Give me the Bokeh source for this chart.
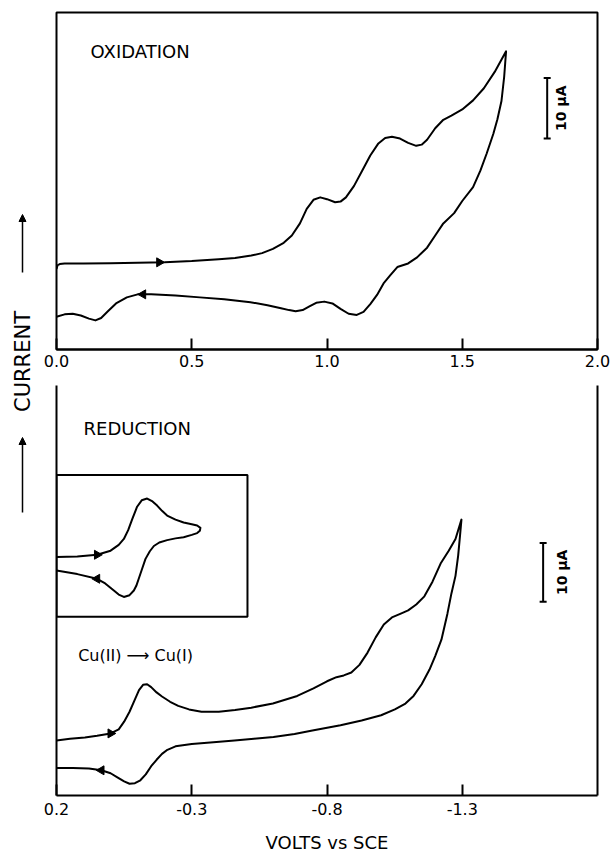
import numpy as np
from math import pi
from bokeh.plotting import figure
from bokeh.models import (Range1d, FixedTicker, PrintfTickFormatter, LinearAxis,
                          Label, Arrow, NormalHead)
from bokeh.layouts import row, column
from bokeh.embed import file_html
from bokeh.resources import INLINE

FONT = "DejaVu Sans"

# ---------------- data (V vs SCE, current in uA) ----------------
# Oxidation, anodic (forward) scan
ox_fwd_v = [0.000, 0.004, 0.012, 0.03, 0.10, 0.20, 0.30, 0.40, 0.50, 0.60, 0.66, 0.72,
            0.76, 0.80, 0.84, 0.87, 0.90, 0.925, 0.95, 0.975, 1.00, 1.03, 1.05, 1.07,
            1.10, 1.13, 1.16, 1.19, 1.215, 1.24, 1.27, 1.30, 1.33, 1.35, 1.37, 1.40,
            1.43, 1.46, 1.50, 1.54, 1.58, 1.62, 1.662]
ox_fwd_i = [13.3, 13.9, 14.1, 14.2, 14.2, 14.25, 14.3, 14.4, 14.6, 14.9, 15.1, 15.5,
            15.9, 16.6, 17.6, 18.8, 20.8, 23.2, 24.7, 25.1, 24.8, 24.3, 24.4, 25.1,
            27.0, 29.5, 32.0, 34.0, 34.9, 35.1, 34.8, 34.1, 33.6, 33.8, 34.6, 36.5,
            37.9, 38.6, 39.6, 41.1, 43.1, 45.8, 49.2]
# Oxidation, return scan
ox_rev_v = [1.662, 1.655, 1.645, 1.63, 1.615, 1.59, 1.567, 1.54, 1.50, 1.47, 1.43,
            1.40, 1.37, 1.333, 1.30, 1.26, 1.235, 1.209, 1.185, 1.16, 1.135, 1.11,
            1.08, 1.05, 1.02, 0.99, 0.96, 0.935, 0.91, 0.884, 0.86, 0.83, 0.78, 0.717,
            0.62, 0.53, 0.44, 0.35, 0.30, 0.26, 0.22, 0.19, 0.165, 0.144, 0.12, 0.09,
            0.06, 0.03, 0.0]
ox_rev_i = [49.2, 45.0, 41.0, 38.0, 35.6, 32.3, 29.5, 26.8, 24.5, 22.5, 20.8,
            18.8, 16.8, 15.2, 14.2, 13.6, 12.3, 10.9, 9.0, 7.5, 6.2, 5.7,
            5.9, 6.7, 7.6, 7.9, 7.7, 7.1, 6.5, 6.3, 6.5, 6.8, 7.3, 7.8,
            8.3, 8.6, 8.9, 9.1, 9.1, 8.6, 7.6, 6.3, 5.2, 4.8, 5.1, 5.6,
            5.9, 5.8, 5.4]

# Reduction, cathodic (forward) scan
red_fwd_v = [0.20, 0.15, 0.095, 0.05, 0.0, -0.03, -0.05, -0.07, -0.09, -0.105, -0.12,
             -0.135, -0.15, -0.17, -0.19, -0.22, -0.25, -0.29, -0.336, -0.40, -0.46,
             -0.52, -0.60, -0.69, -0.75, -0.80, -0.835, -0.862, -0.89, -0.92, -0.95,
             -0.98, -1.01, -1.04, -1.075, -1.10, -1.13, -1.16, -1.19, -1.22, -1.25,
             -1.275, -1.297]
red_fwd_i = [9.4, 9.7, 9.9, 10.2, 10.6, 11.3, 12.6, 14.3, 16.4, 18.0, 18.9,
             19.0, 18.5, 17.6, 16.9, 16.0, 15.3, 14.7, 14.3, 14.3, 14.6,
             15.0, 15.7, 17.0, 18.3, 19.5, 20.2, 20.5, 21.0, 22.3, 24.4,
             27.0, 29.2, 30.4, 31.1, 31.6, 32.6, 34.0, 36.5, 39.6, 41.8,
             43.8, 47.1]
# Reduction, return scan
red_rev_v = [-1.297, -1.292, -1.285, -1.275, -1.26, -1.245, -1.223, -1.20, -1.179,
             -1.15, -1.12, -1.09, -1.051, -1.00, -0.928, -0.85, -0.746, -0.68, -0.602,
             -0.53, -0.458, -0.38, -0.30, -0.24, -0.21, -0.19, -0.17, -0.15, -0.13,
             -0.11, -0.09, -0.07, -0.05, -0.025, 0.0, 0.034, 0.08, 0.14, 0.20]
red_rev_i = [47.1, 44.5, 41.0, 37.5, 34.5, 31.0, 26.6, 23.8, 21.5,
             19.0, 17.0, 15.7, 14.7, 13.7, 12.8, 12.0, 11.1, 10.5, 10.0,
             9.7, 9.4, 9.1, 8.8, 8.4, 7.8, 7.1, 6.1, 5.0, 3.6,
             2.6, 2.1, 2.0, 2.4, 3.1, 3.8, 4.3, 4.6, 4.7, 4.7]

# Inset: Cu(II) -> Cu(I) couple alone (current offset to the inset box)
ins_fwd_v = [0.20, 0.123, 0.05, 0.0, -0.03, -0.049, -0.065, -0.08, -0.098, -0.115,
             -0.135, -0.155, -0.172, -0.19, -0.209, -0.24, -0.27, -0.30, -0.32, -0.332]
ins_fwd_i = [10.2, 10.3, 10.6, 11.3, 12.3, 13.3, 14.8, 16.7, 18.8, 19.9,
             20.2, 19.7, 19.0, 18.1, 17.3, 16.6, 16.1, 15.8, 15.6, 15.2]
ins_rev_v = [-0.332, -0.33, -0.32, -0.30, -0.27, -0.24, -0.209, -0.18, -0.16, -0.145,
             -0.129, -0.115, -0.104, -0.095, -0.086, -0.07, -0.049, -0.03, -0.012,
             0.02, 0.05, 0.123, 0.20]
ins_rev_i = [15.2, 14.7, 14.3, 14.0, 13.6, 13.4, 13.1, 12.7, 12.1, 11.2,
             9.9, 8.0, 6.5, 5.3, 4.5, 3.7, 3.4, 3.8, 4.5,
             5.7, 6.5, 7.3, 7.9]

ox_ticks = [0.0, 0.5, 1.0, 1.5, 2.0]
red_ticks = [0.2, -0.3, -0.8, -1.3]
scale_ua = 10.0

# direction arrows: potential where each arrowhead sits
ox_arrow_fwd, ox_arrow_rev = 0.38, 0.32
red_arrow_fwd, red_arrow_rev = 0.0, 0.034
ins_arrow_fwd, ins_arrow_rev = 0.05, 0.05


def at(vs, is_, v0):
    vs = np.asarray(vs); is_ = np.asarray(is_)
    o = np.argsort(vs)
    return float(np.interp(v0, vs[o], is_[o]))


def style_xaxis(ax, ticks):
    ax.ticker = FixedTicker(ticks=ticks)
    ax.formatter = PrintfTickFormatter(format="%.1f")
    ax.major_tick_in = 11
    ax.major_tick_out = 0
    ax.minor_tick_in = 0
    ax.minor_tick_out = 0
    ax.axis_line_width = 2
    ax.major_tick_line_width = 2
    ax.major_label_text_font = FONT
    ax.major_label_text_font_size = "16px"
    ax.major_label_text_color = "black"


def label(p, x, y, text, size, angle=0.0, align="left", **kw):
    p.add_layout(Label(x=x, y=y, text=text, angle=angle, text_align=align,
                       text_baseline="middle", text_font=FONT,
                       text_font_size=size, text_color="black", **kw))


# ---------------- left strip: CURRENT label ----------------
left = figure(width=38, height=856, x_range=Range1d(0, 38), y_range=Range1d(856, 0),
              output_backend="svg", toolbar_location=None,
              x_axis_location=None, y_axis_location=None, min_border=0)
left.outline_line_color = None
left.grid.visible = False
label(left, 22, 361, "CURRENT", "21px", angle=pi / 2, align="center")
for ys, ye in [(512, 437), (272, 214)]:
    left.add_layout(Arrow(x_start=22, y_start=ys, x_end=22, y_end=ye, line_width=1.5,
                          end=NormalHead(size=7, fill_color="black", line_color="black")))

# ---------------- top: oxidation ----------------
top = figure(width=573, height=380, x_range=Range1d(0, 2.0), y_range=Range1d(0, 55.6),
             output_backend="svg", toolbar_location=None, y_axis_location=None,
             min_border_left=18, min_border_right=14, min_border_top=12,
             min_border_bottom=31)
top.outline_line_color = "black"
top.outline_line_width = 2
top.outline_line_alpha = 1
top.grid.visible = False
style_xaxis(top.xaxis[0], ox_ticks)
top.xaxis[0].major_label_standoff = 5

top.line(ox_fwd_v + ox_rev_v[1:], ox_fwd_i + ox_rev_i[1:], line_color="black",
         line_width=2, line_join="round")
top.scatter([ox_arrow_fwd], [at(ox_fwd_v, ox_fwd_i, ox_arrow_fwd)], marker="triangle",
            angle=-pi / 2, size=9, color="black")
top.scatter([ox_arrow_rev], [at(ox_rev_v, ox_rev_i, ox_arrow_rev)], marker="triangle",
            angle=pi / 2, size=9, color="black")
label(top, 0.126, 49.2, "OXIDATION", "18px")
# 10 uA scale bar
top.segment(x0=[1.814], y0=[34.8], x1=[1.814], y1=[34.8 + scale_ua], line_color="black",
            line_width=2)
top.scatter([1.814, 1.814], [34.8, 34.8 + scale_ua], marker="dash", size=7,
            line_width=2, color="black")
label(top, 1.866, 34.8 + scale_ua / 2, "10 µA", "14px", angle=pi / 2, align="center",
      text_font_style="bold")

# ---------------- bottom: reduction ----------------
bot = figure(width=573, height=476, x_range=Range1d(0.2, -1.8), y_range=Range1d(0, 70.0),
             output_backend="svg", toolbar_location=None,
             min_border_left=18, min_border_right=14, min_border_top=5,
             min_border_bottom=61)
bot.extra_y_ranges = {"inset": Range1d(-30.5, 39.5)}
bot.outline_line_color = None
bot.grid.visible = False
style_xaxis(bot.xaxis[0], red_ticks)
bot.xaxis[0].major_label_standoff = 7
bot.xaxis[0].axis_label = "VOLTS vs SCE"
bot.xaxis[0].axis_label_text_font = FONT
bot.xaxis[0].axis_label_text_font_size = "18px"
bot.xaxis[0].axis_label_text_font_style = "normal"
bot.xaxis[0].axis_label_text_color = "black"
bot.xaxis[0].axis_label_standoff = 14
yl = bot.yaxis[0]
ry = LinearAxis()
bot.add_layout(ry, "right")
for ax in (yl, ry):
    ax.ticker = FixedTicker(ticks=[])
    ax.major_tick_in = 0
    ax.major_tick_out = 0
    ax.minor_tick_in = 0
    ax.minor_tick_out = 0
    ax.major_label_text_font_size = "0px"
    ax.axis_line_width = 2

bot.line(red_fwd_v + red_rev_v[1:], red_fwd_i + red_rev_i[1:], line_color="black",
         line_width=2, line_join="round")
bot.scatter([red_arrow_fwd], [at(red_fwd_v, red_fwd_i, red_arrow_fwd)], marker="triangle",
            angle=-pi / 2, size=9, color="black")
bot.scatter([red_arrow_rev], [at(red_rev_v, red_rev_i, red_arrow_rev)], marker="triangle",
            angle=pi / 2, size=9, color="black")

# inset
bot.quad(left=[0.2], right=[-0.506], bottom=[0], top=[24.2], fill_color=None,
         line_color="black", line_width=2, y_range_name="inset")
bot.line(ins_fwd_v + ins_rev_v[1:], ins_fwd_i + ins_rev_i[1:], line_color="black",
         line_width=2, line_join="round", y_range_name="inset")
bot.scatter([ins_arrow_fwd], [at(ins_fwd_v, ins_fwd_i, ins_arrow_fwd)], marker="triangle",
            angle=-pi / 2, size=9, color="black", y_range_name="inset")
bot.scatter([ins_arrow_rev], [at(ins_rev_v, ins_rev_i, ins_arrow_rev)], marker="triangle",
            angle=pi / 2, size=9, color="black", y_range_name="inset")

label(bot, 0.1, 62.7, "REDUCTION", "18px")
label(bot, 0.12, 23.9, "Cu(II) ⟶ Cu(I)", "16px")
bot.segment(x0=[-1.599], y0=[33.1], x1=[-1.599], y1=[33.1 + scale_ua], line_color="black",
            line_width=2)
bot.scatter([-1.599, -1.599], [33.1, 33.1 + scale_ua], marker="dash", size=7,
            line_width=2, color="black")
label(bot, -1.667, 33.1 + scale_ua / 2, "10 µA", "14px", angle=pi / 2, align="center",
      text_font_style="bold")

layout = row(left, column(top, bot))
open("out.html", "w").write(file_html(layout, INLINE))
